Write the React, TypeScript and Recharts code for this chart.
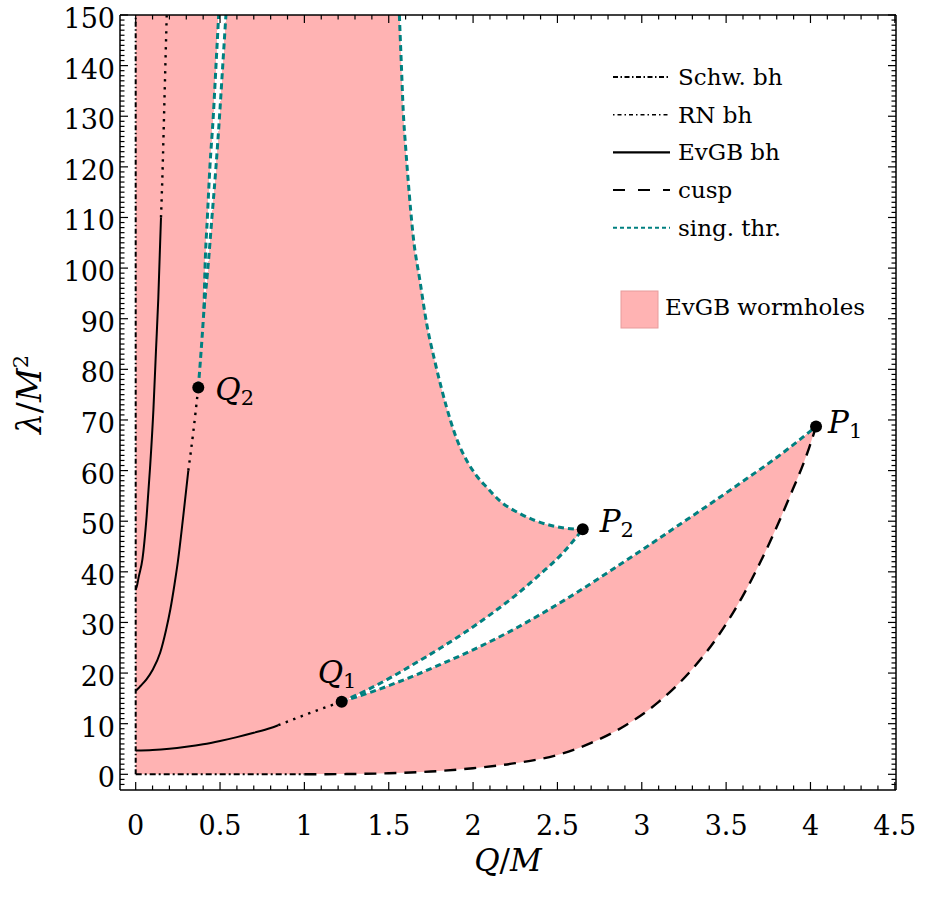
import { ComposedChart, XAxis, YAxis, Area, Line, Scatter, Legend } from "recharts"

type Pt = { q: number; l: number }
const pts = (a: number[][]): Pt[] => a.map(([q, l]) => ({ q, l }))

// axis ticks
const xMajor = [0, 0.5, 1, 1.5, 2, 2.5, 3, 3.5, 4, 4.5]
const yMajor = [0, 10, 20, 30, 40, 50, 60, 70, 80, 90, 100, 110, 120, 130, 140, 150]

// black hole lines
const schwBh = pts([[0, 0], [0, 150]])
const rnBh = pts([[0, 0], [1, 0]])
const evgbA = pts([[0, 36.5], [0.008, 37.3], [0.018, 39], [0.04, 42.5], [0.065, 51], [0.085, 60.5], [0.105, 72], [0.12, 83.5], [0.134, 94], [0.15, 110]])
const evgbB = pts([[0, 16.5], [0.01, 16.8], [0.03, 17.5], [0.065, 18.8], [0.1, 20.6], [0.145, 24], [0.18, 28.5], [0.205, 32.5], [0.23, 37.5], [0.25, 42], [0.282, 51], [0.312, 60]])
const evgbC = pts([[0, 4.7], [0.1, 4.8], [0.2, 5.05], [0.3, 5.45], [0.4, 5.95], [0.5, 6.6], [0.6, 7.35], [0.7, 8.2], [0.8, 9.15], [0.845, 9.7]])
const dottedA = pts([[0.15, 110], [0.16, 120], [0.168, 130], [0.176, 140], [0.184, 150]])
const dottedB = pts([[0.312, 60], [0.341, 67.5], [0.371, 76.4]])
const dottedC = pts([[0.845, 9.7], [1.0, 11.7], [1.221, 14.35]])

// cusp + singularity thresholds
const cusp = pts([[1, 0], [1.25, 0.05], [1.5, 0.2], [1.75, 0.55], [2, 1.2], [2.25, 2.2], [2.5, 3.8], [2.7, 6.2], [2.9, 9.6], [3.1, 14.3], [3.3, 20.8], [3.45, 27.2], [3.6, 35.3], [3.75, 45.2], [3.87, 54.3], [3.99, 64.3], [4.033, 68.7]])
const singLow = pts([[1.221, 14.35], [1.4, 16.3], [1.6, 18.8], [1.8, 21.6], [2.0, 24.6], [2.2, 27.9], [2.4, 31.6], [2.6, 35.6], [2.8, 39.9], [3.0, 44.3], [3.2, 48.8], [3.4, 53.3], [3.6, 57.9], [3.8, 62.6], [4.033, 68.7]])
const singUp = pts([[1.221, 14.35], [1.35, 16.3], [1.5, 18.9], [1.65, 21.8], [1.8, 24.8], [1.95, 28], [2.1, 31.5], [2.25, 35.3], [2.4, 39.6], [2.52, 43.3], [2.65, 48.4]])
const singBig = pts([[1.563, 150], [1.575, 140], [1.586, 131], [1.6, 124], [1.616, 117], [1.646, 106], [1.685, 97.5], [1.725, 89], [1.774, 81.5], [1.843, 72.5], [1.9, 66.5], [1.962, 62], [2.02, 59], [2.081, 56.7], [2.159, 54], [2.278, 51.5], [2.37, 50.1], [2.456, 49.2], [2.55, 48.6], [2.65, 48.4]])
const singQ2 = pts([[0.371, 76.4], [0.382, 81], [0.393, 86], [0.405, 92]])
const singLeft = pts([[0.405, 92], [0.411, 100], [0.425, 110], [0.44, 120], [0.46, 130], [0.476, 140], [0.492, 150]])
const singRight = pts([[0.405, 92], [0.428, 100], [0.452, 110], [0.476, 120], [0.497, 130], [0.516, 140], [0.535, 150]])

const keyPoints = [
  { q: 4.033, l: 68.7, name: "P", sub: "1" },
  { q: 2.65, l: 48.4, name: "P", sub: "2" },
  { q: 1.221, l: 14.35, name: "Q", sub: "1" },
  { q: 0.371, l: 76.4, name: "Q", sub: "2" },
]

const legendLabels = ["Schw. bh", "RN bh", "EvGB bh", "cusp", "sing. thr."]
const regionLabel = "EvGB wormholes"

// region outlines built from the curves
const wormholeTop = [{ q: 0, l: 150 }, ...singBig]
const sliverCap = [...singLeft, singRight[singRight.length - 1]]

const PINK = "#FFB3B3"
const TEAL = "#008080"
const FONT = "'DejaVu Serif', serif"

const legendStyles = [
  { stroke: "#000", dash: "5 2.5 1.5 2.5", w: 2 },
  { stroke: "#000", dash: "1.5 3 4 3", w: 1.6 },
  { stroke: "#000", dash: undefined, w: 2.4 },
  { stroke: "#000", dash: "12 13", w: 2 },
  { stroke: TEAL, dash: "4 3", w: 2 },
]

const labelOffsets: Record<string, { dx: number; dy: number }> = {
  P1: { dx: 12, dy: 6 },
  P2: { dx: 17, dy: 3 },
  Q1: { dx: -24, dy: -19 },
  Q2: { dx: 17, dy: 12 },
}

const xTicks: number[] = []
for (let i = 0; i <= 45; i++) xTicks.push(i / 10)
const yTicks: number[] = []
for (let i = -2; i <= 150; i++) yTicks.push(i)

const isMajorX = (v: number) => xMajor.some(m => Math.abs(m - v) < 1e-6)
const isMajorY = (v: number) => yMajor.includes(v)

const BottomTick = ({ x, y, payload }: any) => {
  const major = isMajorX(payload.value)
  return (
    <g>
      <line x1={x} x2={x} y1={y} y2={y - (major ? 8 : 4.5)} stroke="#000" strokeWidth={1.2} />
      {major && (
        <text x={x} y={y + 45} textAnchor="middle" fontFamily={FONT} fontSize={27} fill="#000">
          {String(payload.value)}
        </text>
      )}
    </g>
  )
}

const TopTick = ({ x, y, payload }: any) => {
  const major = isMajorX(payload.value)
  return <line x1={x} x2={x} y1={y} y2={y + (major ? 8 : 4.5)} stroke="#000" strokeWidth={1.2} />
}

const LeftTick = ({ x, y, payload }: any) => {
  const major = isMajorY(payload.value)
  return (
    <g>
      <line x1={x} x2={x + (major ? 8 : 4.5)} y1={y} y2={y} stroke="#000" strokeWidth={1.2} />
      {major && (
        <text x={x - 5} y={y + 13} textAnchor="end" fontFamily={FONT} fontSize={27} fill="#000">
          {String(payload.value)}
        </text>
      )}
    </g>
  )
}

const RightTick = ({ x, y, payload }: any) => {
  const major = isMajorY(payload.value)
  return <line x1={x} x2={x - (major ? 8 : 4.5)} y1={y} y2={y} stroke="#000" strokeWidth={1.2} />
}

const XTitle = ({ viewBox }: any) => (
  <text x={viewBox.x + viewBox.width / 2} y={viewBox.y + 81} textAnchor="middle" fontFamily={FONT} fontSize={31} fill="#000">
    <tspan fontStyle="italic">Q</tspan>
    <tspan>/</tspan>
    <tspan fontStyle="italic">M</tspan>
  </text>
)

const YTitle = ({ viewBox }: any) => {
  const cx = 41
  const cy = viewBox.y + viewBox.height / 2 - 8
  return (
    <text x={cx} y={cy} transform={`rotate(-90 ${cx} ${cy})`} textAnchor="middle" fontFamily={FONT} fontSize={33} fill="#000">
      <tspan fontStyle="italic">λ</tspan>
      <tspan>/</tspan>
      <tspan fontStyle="italic">M</tspan>
      <tspan fontSize={21} dy={-13}>2</tspan>
    </text>
  )
}

const KeyPoint = ({ cx, cy, payload }: any) => {
  const off = labelOffsets[payload.name + payload.sub]
  return (
    <g>
      <circle cx={cx} cy={cy} r={6} fill="#000" />
      <text x={cx + off.dx} y={cy + off.dy} fontFamily={FONT} fontSize={31} fill="#000">
        <tspan fontStyle="italic">{payload.name}</tspan>
        <tspan fontSize={21} dy={5}>{payload.sub}</tspan>
      </text>
    </g>
  )
}

const LegendBox = () => (
  <svg width={320} height={300}>
    {legendLabels.map((label, i) => {
      const s = legendStyles[i]
      const y = 27 + i * 37.7
      return (
        <g key={label}>
          <line x1={13} x2={70} y1={y} y2={y} stroke={s.stroke} strokeWidth={s.w} strokeDasharray={s.dash} />
          <text x={78} y={y + 8} fontFamily={FONT} fontSize={23} fill="#000">{label}</text>
        </g>
      )
    })}
    <rect x={21} y={241} width={37} height={37} fill={PINK} stroke="#E79C9C" strokeWidth={1} />
    <text x={65} y={265} fontFamily={FONT} fontSize={23} fill="#000">{regionLabel}</text>
  </svg>
)

export default function App() {
  const areaProps = { type: "monotone" as const, dataKey: "l", stroke: "none", fillOpacity: 1, baseValue: 0, isAnimationActive: false, dot: false, activeDot: false, legendType: "none" as const }
  const lineProps = { type: "monotone" as const, dataKey: "l", dot: false, activeDot: false, isAnimationActive: false, legendType: "none" as const }
  return (
    <div style={{ position: "absolute", left: 0, top: 0, background: "#fff" }}>
      <ComposedChart width={926} height={903} margin={{ top: 10, right: 25, bottom: 0, left: 0 }}>
        <XAxis dataKey="q" type="number" domain={[-0.093, 4.507]} allowDataOverflow ticks={xTicks} interval={0}
          tick={<BottomTick />} tickLine={false} tickSize={0} tickMargin={0} height={113}
          axisLine={{ stroke: "#000", strokeWidth: 1.5 }} label={<XTitle />} />
        <XAxis xAxisId="top" orientation="top" dataKey="q" type="number" domain={[-0.093, 4.507]} allowDataOverflow ticks={xTicks} interval={0}
          tick={<TopTick />} tickLine={false} tickSize={0} tickMargin={0} height={5}
          axisLine={{ stroke: "#000", strokeWidth: 1.5 }} />
        <YAxis dataKey="l" type="number" domain={[-3.1, 150]} allowDataOverflow ticks={yTicks} interval={0}
          tick={<LeftTick />} tickLine={false} tickSize={0} tickMargin={0} width={120}
          axisLine={{ stroke: "#000", strokeWidth: 1.5 }} label={<YTitle />} />
        <YAxis yAxisId="right" orientation="right" dataKey="l" type="number" domain={[-3.1, 150]} allowDataOverflow ticks={yTicks} interval={0}
          tick={<RightTick />} tickLine={false} tickSize={0} tickMargin={0} width={5}
          axisLine={{ stroke: "#000", strokeWidth: 1.5 }} />

        <Legend content={<LegendBox />} layout="vertical" verticalAlign="middle" align="center"
          wrapperStyle={{ left: 600, top: 50, width: 320, height: 300 }} />

        {/* wormhole region, with the non-wormhole holes painted back in white */}
        <Area {...areaProps} data={wormholeTop} fill={PINK} />
        <Area {...areaProps} data={singUp} fill="#fff" shapeRendering="crispEdges" />
        <Area {...areaProps} data={singLow} fill={PINK} shapeRendering="crispEdges" />
        <Area {...areaProps} data={cusp} fill="#fff" baseValue={-3.1} />
        <Area {...areaProps} data={sliverCap} fill="#fff" shapeRendering="crispEdges" />
        <Area {...areaProps} data={singRight} fill={PINK} shapeRendering="crispEdges" />

        <Line {...lineProps} type="linear" data={schwBh} stroke="#000" strokeWidth={2} strokeDasharray="5 2.5 1.5 2.5" />
        <Line {...lineProps} type="linear" data={rnBh} stroke="#000" strokeWidth={2} strokeDasharray="6 3 2 3" />
        <Line {...lineProps} data={evgbA} stroke="#000" strokeWidth={2} />
        <Line {...lineProps} data={evgbB} stroke="#000" strokeWidth={2} />
        <Line {...lineProps} data={evgbC} stroke="#000" strokeWidth={2} />
        <Line {...lineProps} data={dottedA} stroke="#000" strokeWidth={2.4} strokeDasharray="2.4 5.6" />
        <Line {...lineProps} data={dottedB} stroke="#000" strokeWidth={2.4} strokeDasharray="2.4 5.6" />
        <Line {...lineProps} data={dottedC} stroke="#000" strokeWidth={2.4} strokeDasharray="2.4 5.6" />
        <Line {...lineProps} data={cusp} stroke="#000" strokeWidth={2.4} strokeDasharray="12 8" />
        <Line {...lineProps} data={singLow} stroke={TEAL} strokeWidth={3} strokeDasharray="6 4" />
        <Line {...lineProps} data={singUp} stroke={TEAL} strokeWidth={3} strokeDasharray="6 4" />
        <Line {...lineProps} data={singBig} stroke={TEAL} strokeWidth={3} strokeDasharray="6 4" />
        <Line {...lineProps} data={singQ2} stroke={TEAL} strokeWidth={3} strokeDasharray="6 4" />
        <Line {...lineProps} data={singLeft} stroke={TEAL} strokeWidth={3} strokeDasharray="6 4" />
        <Line {...lineProps} data={singRight} stroke={TEAL} strokeWidth={3} strokeDasharray="6 4" />

        <Scatter data={keyPoints} dataKey="l" shape={<KeyPoint />} isAnimationActive={false} legendType="none" />
      </ComposedChart>
    </div>
  )
}
